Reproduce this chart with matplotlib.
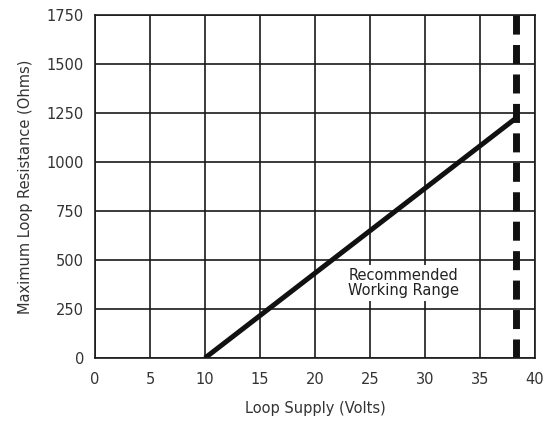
import matplotlib
matplotlib.use("Agg")
import matplotlib.pyplot as plt

supply_volts = [10, 38.3]
max_resistance = [0, 1225]
limit_volts = 38.3
x_ticks = [0, 5, 10, 15, 20, 25, 30, 35, 40]
y_ticks = [0, 250, 500, 750, 1000, 1250, 1500, 1750]

plt.rcParams['font.family'] = ['DejaVu Sans']
fig = plt.figure(figsize=(5.48, 4.21), dpi=100)
ax = fig.add_axes([95/548, 1-358/421, 440/548, 343/421])
ax.set_xlim(0, 40)
ax.set_ylim(0, 1750)
ax.set_xticks(x_ticks)
ax.set_yticks(y_ticks)
ax.grid(True, color='#1a1a1a', linewidth=1.2)
ax.set_axisbelow(True)
for s in ax.spines.values():
    s.set_color('#1a1a1a')
    s.set_linewidth(1.2)
ax.tick_params(axis='both', length=0, labelsize=10.5, colors='#333333')
ax.tick_params(axis='x', pad=10)
ax.tick_params(axis='y', pad=8)
ax.plot(supply_volts, max_resistance, color='#111111', linewidth=3.6, solid_capstyle='butt')
ax.axvline(limit_volts, color='#111111', linewidth=5, linestyle=(0, (2.74, 1.5)))
ax.text(28, 383, "Recommended\nWorking Range", ha='center', va='center', fontsize=10.5,
        color='#222222', linespacing=1.05,
        bbox=dict(facecolor='white', edgecolor='none', pad=2))
ax.set_xlabel("Loop Supply (Volts)", fontsize=10.5, color='#333333', labelpad=10)
ax.set_ylabel("Maximum Loop Resistance (Ohms)", fontsize=10.5, color='#333333', labelpad=10)
fig.savefig("out.png", dpi=100)
